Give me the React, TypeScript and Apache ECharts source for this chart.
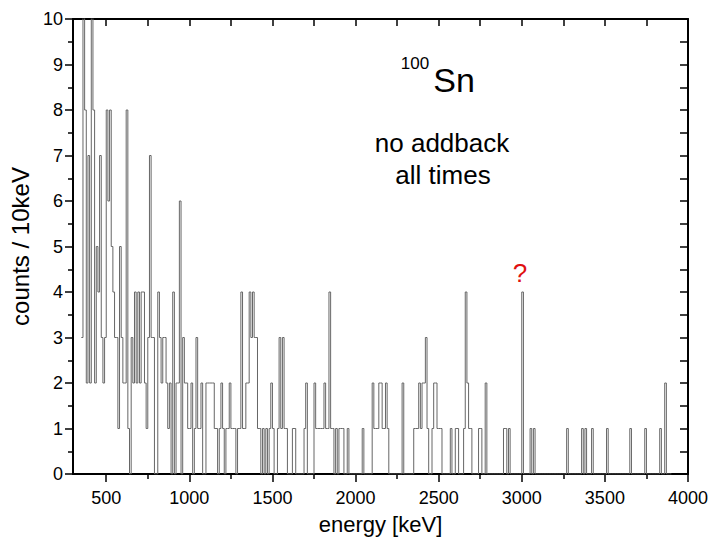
import React, { useEffect, useRef } from "react";
import * as echarts from "echarts";

// 10 keV bins, first bin starts at 350 keV
const firstBinKeV = 350;
const binWidthKeV = 10;
const counts: number[] = [
  3, 11, 8, 2, 7,
  2, 11, 8, 2, 5, 4, 7, 3, 2, 3, // 400
  8, 6, 8, 5, 4, 3, 3, 1, 5, 3, // 500
  2, 2, 8, 1, 0, 3, 2, 4, 2, 4, // 600
  2, 4, 4, 2, 1, 3, 7, 3, 3, 0, // 700
  0, 4, 3, 2, 3, 3, 2, 1, 2, 0, // 800
  4, 0, 2, 2, 6, 0, 3, 2, 2, 1, // 900
  1, 2, 0, 1, 3, 1, 1, 2, 0, 0, // 1000
  2, 2, 2, 2, 2, 1, 1, 0, 1, 2, // 1100
  1, 0, 1, 1, 2, 1, 1, 1, 0, 1, // 1200
  1, 4, 1, 1, 2, 2, 4, 3, 4, 3, // 1300
  3, 1, 1, 0, 1, 0, 1, 0, 1, 2, // 1400
  1, 0, 0, 1, 3, 1, 3, 1, 1, 0, // 1500
  0, 0, 1, 1, 0, 0, 0, 0, 0, 1, // 1600
  2, 0, 0, 0, 0, 2, 1, 1, 1, 1, // 1700
  1, 2, 1, 1, 4, 1, 1, 0, 1, 0, // 1800
  1, 1, 1, 0, 0, 1, 0, 0, 0, 0, // 1900
  0, 0, 0, 0, 1, 0, 0, 0, 0, 0, // 2000
  2, 1, 1, 1, 2, 2, 1, 1, 2, 1, // 2100
  0, 0, 0, 0, 0, 0, 0, 0, 2, 0, // 2200
  0, 0, 0, 0, 0, 1, 1, 1, 2, 1, // 2300
  2, 2, 3, 1, 0, 0, 1, 2, 2, 1, // 2400
  1, 1, 0, 0, 0, 0, 0, 1, 0, 0, // 2500
  1, 1, 0, 0, 0, 1, 4, 2, 1, 1, // 2600
  0, 0, 0, 0, 1, 1, 0, 0, 2, 0, // 2700
  0, 0, 0, 0, 0, 0, 0, 0, 0, 1, // 2800
  1, 0, 1, 0, 0, 0, 0, 0, 0, 0, // 2900
  4, 0, 0, 0, 0, 1, 0, 1, 0, 0, // 3000
  0, 0, 0, 0, 0, 0, 0, 0, 0, 0, // 3100
  0, 0, 0, 0, 0, 0, 0, 1, 0, 0, // 3200
  0, 0, 0, 0, 0, 0, 1, 0, 1, 0, // 3300
  0, 0, 1, 0, 0, 0, 0, 0, 0, 0, // 3400
  0, 1, 0, 0, 0, 0, 0, 0, 0, 0, // 3500
  0, 0, 0, 0, 0, 1, 0, 0, 0, 0, // 3600
  0, 0, 0, 0, 1, 0, 0, 0, 0, 0, // 3700
  0, 0, 0, 1, 0, 0, 2, 0, 0, 0, // 3800
];

const majorXTicks = [500, 1000, 1500, 2000, 2500, 3000, 3500, 4000];
const minorXTicks = [750, 1250, 1750, 2250, 2750, 3250, 3750];
const topXTicks = [500, 750, 1000, 1250, 1500, 1750, 2000, 2250, 2500, 2750, 3000, 3250, 3500, 3750];

const FONT = "'Liberation Sans', Arial, sans-serif";

export default function App() {
  const ref = useRef<HTMLDivElement>(null);
  useEffect(() => {
    if (!ref.current) return;
    const chart = echarts.init(ref.current, undefined, { renderer: "svg" });
    const data: [number, number][] = counts.map((c, i) => [firstBinKeV + i * binWidthKeV, c]);
    data.push([firstBinKeV + counts.length * binWidthKeV, counts[counts.length - 1]]);

    const tickStyle = { color: "#000", width: 1.5 };
    const plain = (v: number) => String(v);
    chart.setOption({
      animation: false,
      backgroundColor: "#fff",
      grid: { left: 73, right: 22, top: 19, bottom: 61 },
      xAxis: [
        {
          type: "value", min: 300, max: 4000, position: "bottom",
          axisLine: { show: true, onZero: false, lineStyle: { color: "#000", width: 2 } },
          axisTick: { show: true, inside: false, length: 8, lineStyle: tickStyle, customValues: majorXTicks },
          axisLabel: { customValues: majorXTicks, formatter: plain, fontSize: 18, color: "#000", margin: 15, fontFamily: FONT },
          splitLine: { show: false },
          name: "energy [keV]", nameLocation: "middle", nameGap: 39,
          nameTextStyle: { fontSize: 22, color: "#000", fontFamily: FONT },
        },
        {
          type: "value", min: 300, max: 4000, position: "bottom",
          axisLine: { show: false, onZero: false },
          axisTick: { show: true, inside: false, length: 5, lineStyle: tickStyle, customValues: minorXTicks },
          axisLabel: { show: false },
          splitLine: { show: false },
        },
        {
          type: "value", min: 300, max: 4000, position: "top",
          axisLine: { show: true, onZero: false, lineStyle: { color: "#000", width: 2 } },
          axisTick: { show: true, inside: true, length: 7, lineStyle: tickStyle, customValues: topXTicks },
          axisLabel: { show: false },
          splitLine: { show: false },
        },
      ],
      yAxis: [
        {
          type: "value", min: 0, max: 10, interval: 1, position: "left",
          axisLine: { show: true, onZero: false, lineStyle: { color: "#000", width: 2 } },
          axisTick: { show: true, inside: false, length: 8, lineStyle: tickStyle },
          minorTick: { show: true, splitNumber: 2, length: 5, lineStyle: tickStyle },
          axisLabel: { fontSize: 18, color: "#000", margin: 10, fontFamily: FONT },
          splitLine: { show: false },
          minorSplitLine: { show: false },
          name: "counts / 10keV", nameLocation: "middle", nameGap: 41,
          nameTextStyle: { fontSize: 24, color: "#000", fontFamily: FONT },
        },
        {
          type: "value", min: 0, max: 10, interval: 0.5, position: "right",
          axisLine: { show: true, onZero: false, lineStyle: { color: "#000", width: 2 } },
          axisTick: { show: true, inside: true, length: 8, lineStyle: tickStyle },
          axisLabel: { show: false },
          splitLine: { show: false },
        },
      ],
      series: [
        {
          type: "line", step: "end", xAxisIndex: 0, yAxisIndex: 0,
          data, symbol: "none", clip: true,
          lineStyle: { color: "#666", width: 1 },
        },
      ],
      graphic: [
        { type: "text", x: 415, y: 63, style: { text: "100", fontSize: 17, fontFamily: FONT, fill: "#000", align: "center", verticalAlign: "middle" } },
        { type: "text", x: 454, y: 80, style: { text: "Sn", fontSize: 34, fontFamily: FONT, fill: "#000", align: "center", verticalAlign: "middle" } },
        { type: "text", x: 442, y: 143, style: { text: "no addback", fontSize: 26, fontFamily: FONT, fill: "#000", align: "center", verticalAlign: "middle" } },
        { type: "text", x: 443, y: 175, style: { text: "all times", fontSize: 26, fontFamily: FONT, fill: "#000", align: "center", verticalAlign: "middle" } },
        { type: "text", x: 520, y: 273, style: { text: "?", fontSize: 26, fontFamily: FONT, fill: "#e01010", align: "center", verticalAlign: "middle" } },
      ],
    });
    return () => chart.dispose();
  }, []);
  return <div ref={ref} style={{ position: "fixed", left: 0, top: 0, width: 711, height: 540 }} />;
}
